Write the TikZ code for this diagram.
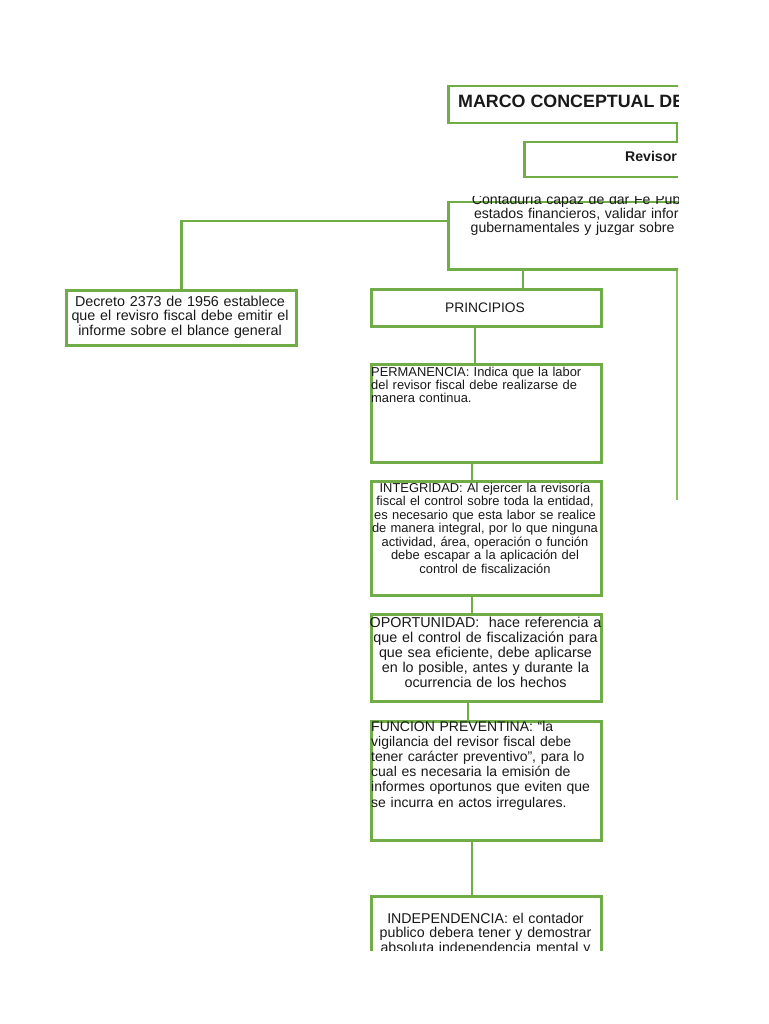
\documentclass[tikz,border=0pt]{standalone}
\usepackage{fontspec}
\setmainfont{Liberation Sans}
\definecolor{gr}{RGB}{112,173,71}
\definecolor{grl}{RGB}{140,190,105}
\begin{document}
\begin{tikzpicture}[x=1pt,y=-1pt,
  box/.style={draw=gr,line width=2.5pt,inner sep=0pt,anchor=north west},
  link/.style={draw=gr,line width=2.5pt},
  thinlink/.style={draw=grl,line width=1.1pt},
  txt/.style={inner sep=0pt,text=black!90},
  ctxt/.style={txt,text width=270pt,align=center,anchor=base},
  ltxt/.style={txt,text width=260pt,align=left,anchor=base west}]
\useasboundingbox[fill=white] (0,0) rectangle (768,1024);
\begin{scope}
\clip (0,0) rectangle (678.2,950);
% boxes
\node[box,minimum width=273pt,minimum height=37pt] (title) at (447,85) {};
\node[box,minimum width=200pt,minimum height=35pt] (revisor) at (523,141) {};
\node[box,minimum width=273pt,minimum height=67pt] (defin) at (447,201) {};
\node[box,minimum width=230pt,minimum height=55pt] (decreto) at (65,289) {};
\node[box,minimum width=230pt,minimum height=37pt] (princ) at (370,288) {};
\node[box,minimum width=230pt,minimum height=98pt] (perm) at (370,363) {};
\node[box,minimum width=230pt,minimum height=114pt] (integ) at (370,480) {};
\node[box,minimum width=230pt,minimum height=87pt] (oport) at (370,613) {};
\node[box,minimum width=230pt,minimum height=119pt] (func) at (370,720) {};
\node[box,minimum width=230pt,minimum height=120pt] (indep) at (370,895) {};
% helper coordinates
\coordinate (tr) at (676.8,0);
\coordinate (dy) at (0,221);
\coordinate (cx1) at (523,0);
\coordinate (cx2) at (472,0);
\coordinate (cx3) at (475,0);
\coordinate (cx4) at (468,0);
\coordinate (rl) at (677,500);
% connectors
\draw[link] (title.south -| tr) -- (revisor.north -| tr);
\draw[link] (defin.west |- dy) -| (decreto.north);
\draw[link] (defin.south -| cx1) -- (princ.north -| cx1);
\draw[link] (princ.south -| cx3) -- (perm.north -| cx3);
\draw[link] (perm.south -| cx2) -- (integ.north -| cx2);
\draw[link] (integ.south -| cx2) -- (oport.north -| cx2);
\draw[link] (oport.south -| cx4) -- (func.north -| cx4);
\draw[link] (func.south -| cx2) -- (indep.north -| cx2);
\draw[thinlink] (defin.south -| rl) -- (rl);
% texts
\node[txt,anchor=base west,font=\bfseries\fontsize{17.85}{20}\selectfont] (titlet) at (458,108) {MARCO CONCEPTUAL DE};
\node[txt,anchor=base west,font=\bfseries\fontsize{14.1}{16}\selectfont] (revisort) at (625,162) {Revisor};
\begin{scope}
\clip (0,197) rectangle (678.2,950);
\node[ltxt,font=\fontsize{14.1}{13.6}\selectfont] (defint) at (470.5,205) {\hspace*{1.2pt}Contaduría capaz de dar Fe Pública\\\hspace*{3.3pt}estados financieros, validar informes\\gubernamentales y juzgar sobre};
\end{scope}
\node[ctxt,font=\fontsize{14.3}{14.5}\selectfont] (decretot) at (180,306) {Decreto 2373 de 1956 establece\\que el revisro fiscal debe emitir el\\informe sobre el blance general};
\node[ctxt,font=\fontsize{13.8}{16}\selectfont] (princt) at (485,312) {PRINCIPIOS};
\node[ltxt,font=\fontsize{12.9}{13.3}\selectfont] (permt) at (371,376) {PERMANENCIA: Indica que la labor\\del revisor fiscal debe realizarse de\\manera continua.};
\node[ctxt,font=\fontsize{12.9}{13.5}\selectfont] (integt) at (485,492) {INTEGRIDAD: Al ejercer la revisoría\\fiscal el control sobre toda la entidad,\\es necesario que esta labor se realice\\de manera integral, por lo que ninguna\\actividad, área, operación o función\\debe escapar a la aplicación del\\control de fiscalización};
\node[ctxt,font=\fontsize{14.35}{15}\selectfont] (oportt) at (485.5,627) {OPORTUNIDAD:\ \ hace referencia a\\que el control de fiscalización para\\que sea eficiente, debe aplicarse\\en lo posible, antes y durante la\\ocurrencia de los hechos};
\node[ltxt,font=\fontsize{14}{15.2}\selectfont] (funct) at (371,731) {FUNCION PREVENTINA: “la\\vigilancia del revisor fiscal debe\\tener carácter preventivo”, para lo\\cual es necesaria la emisión de\\informes oportunos que eviten que\\se incurra en actos irregulares.};
\node[ctxt,font=\fontsize{14.2}{14.5}\selectfont] (indept) at (485.5,923) {INDEPENDENCIA: el contador\\publico debera tener y demostrar\\absoluta independencia mental y};
\end{scope}
\end{tikzpicture}
\end{document}
